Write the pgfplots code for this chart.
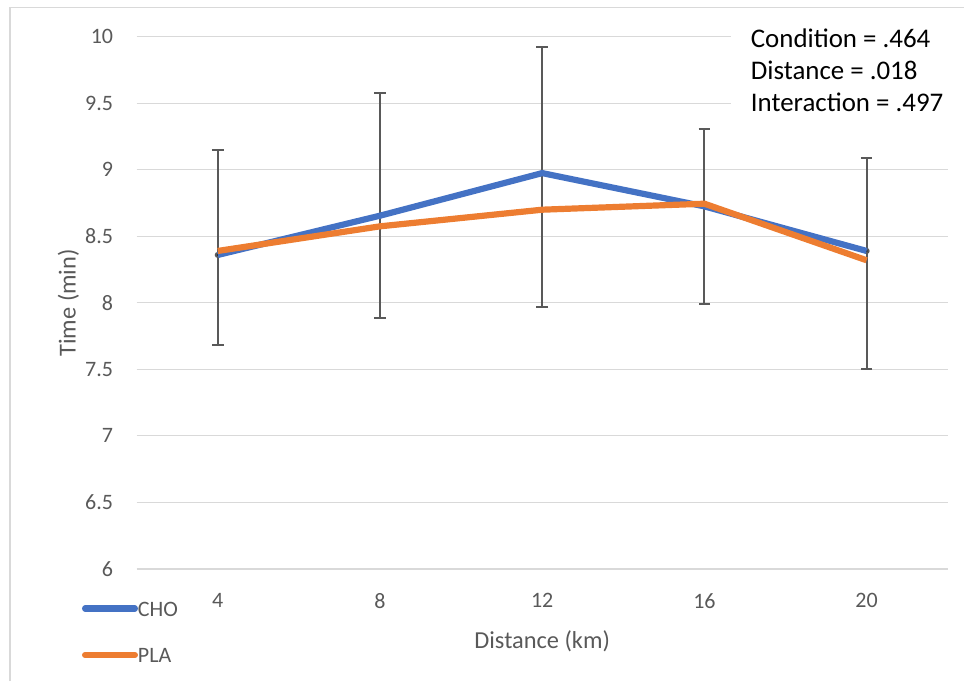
\documentclass[border=0pt]{standalone}
\usepackage{pgfplots}
\pgfplotsset{compat=1.18}
\usepackage{fontspec}
\setmainfont{Carlito}
\definecolor{choblue}{HTML}{4472C4}
\definecolor{plaorange}{HTML}{ED7D31}
\definecolor{txtgray}{HTML}{595959}
\definecolor{gridgray}{HTML}{D9D9D9}
\pgfplotsset{
  base/.style={
    at={(0pt,0pt)}, anchor=south west,
    scale only axis, width=811pt, height=532.3pt,
    xmin=-0.5, xmax=4.5, ymin=6, ymax=10,
    axis line style={draw=none}, major tick length=0pt,
    clip=false,
  }
}
\begin{document}
\begin{tikzpicture}
\useasboundingbox (-136.7pt,-112pt) rectangle (827.3pt,569pt);
% axis 1: grid, labels and error bars
\begin{axis}[
  base,
  xtick={0,1,2,3,4}, xticklabels={4,8,12,16,20},
  ytick={6,6.5,7,7.5,8,8.5,9,9.5,10},
  yticklabels={6,6.5,7,7.5,8,8.5,9,9.5,10},
  ymajorgrids, major grid style={draw=gridgray, line width=1.1pt},
  tick label style={font=\fontsize{22}{26}\selectfont, text=txtgray, inner sep=0pt},
  xticklabel style={anchor=north, yshift=-24pt},
  yticklabel style={anchor=east, xshift=-23.4pt},
  every axis x label/.style={at={(axis description cs:0.5,0)}, yshift=-79.3pt, anchor=base, inner sep=0pt, font=\fontsize{24.4}{29}\selectfont, text=txtgray},
  every axis y label/.style={at={(axis description cs:0,0.5)}, xshift=-61pt, rotate=90, anchor=base, inner sep=0pt, font=\fontsize{24.4}{29}\selectfont, text=txtgray},
  xlabel={Distance (km)}, ylabel={Time (min)},
]
\addplot[only marks, mark=none, draw=txtgray, line width=2pt,
  error bars/.cd, y dir=both, y explicit,
  error bar style={draw=txtgray, line width=2pt},
  error mark options={draw=txtgray, line width=2pt, mark size=5.8pt, rotate=90}]
coordinates {
  (0,8.36)  += (0,0.79) -= (0,0.68)
  (1,8.655) += (0,0.92) -= (0,0.77)
  (2,8.975) += (0,0.945) -= (0,1.005)
  (3,8.725) += (0,0.585) -= (0,0.735)
  (4,8.39)  += (0,0.70) -= (0,0.89)
};
\end{axis}
% axis 2: the two series and the legend, drawn over the error bars
\begin{axis}[
  base,
  xtick=\empty, ytick=\empty,
  legend style={at={(axis description cs:0,0)}, anchor=north west, xshift=-54.7pt, yshift=-32.8pt,
    draw=none, fill=none, inner sep=0pt, outer sep=0pt, row sep=30.8pt,
    font=\fontsize{22}{26}\selectfont, text=txtgray,
    nodes={inner sep=0pt, text=txtgray}},
  legend cell align=left,
  legend image code/.code={\draw[#1, line cap=round] (3.1pt,1.2pt) -- (52.9pt,1.2pt);},
]
\addplot[choblue, line width=6.2pt, mark=none] coordinates {
  (0,8.36) (1,8.655) (2,8.975) (3,8.725) (4,8.39)
};
\addlegendentry{CHO}
\addplot[plaorange, line width=6.2pt, mark=none] coordinates {
  (0,8.39) (1,8.575) (2,8.70) (3,8.745) (4,8.32)
};
\addlegendentry{PLA}
\end{axis}
% chart area border (left and top edges visible)
\draw[gridgray, line width=1.1pt] (-126.7pt,-112pt) -- (-126.7pt,561.7pt) -- (827.3pt,561.7pt);
% text box with p-values
\fill[white] (594pt,451pt) rectangle (823pt,554pt);
\begin{scope}[every node/.style={anchor=base west, inner sep=0pt, font=\fontsize{26.9}{32}\selectfont, text=black}]
\node at (614pt,521.7pt) {Condition = .464};
\node at (614pt,489pt) {Distance = .018};
\node at (614pt,457.3pt) {Interaction = .497};
\end{scope}
\end{tikzpicture}
\end{document}
